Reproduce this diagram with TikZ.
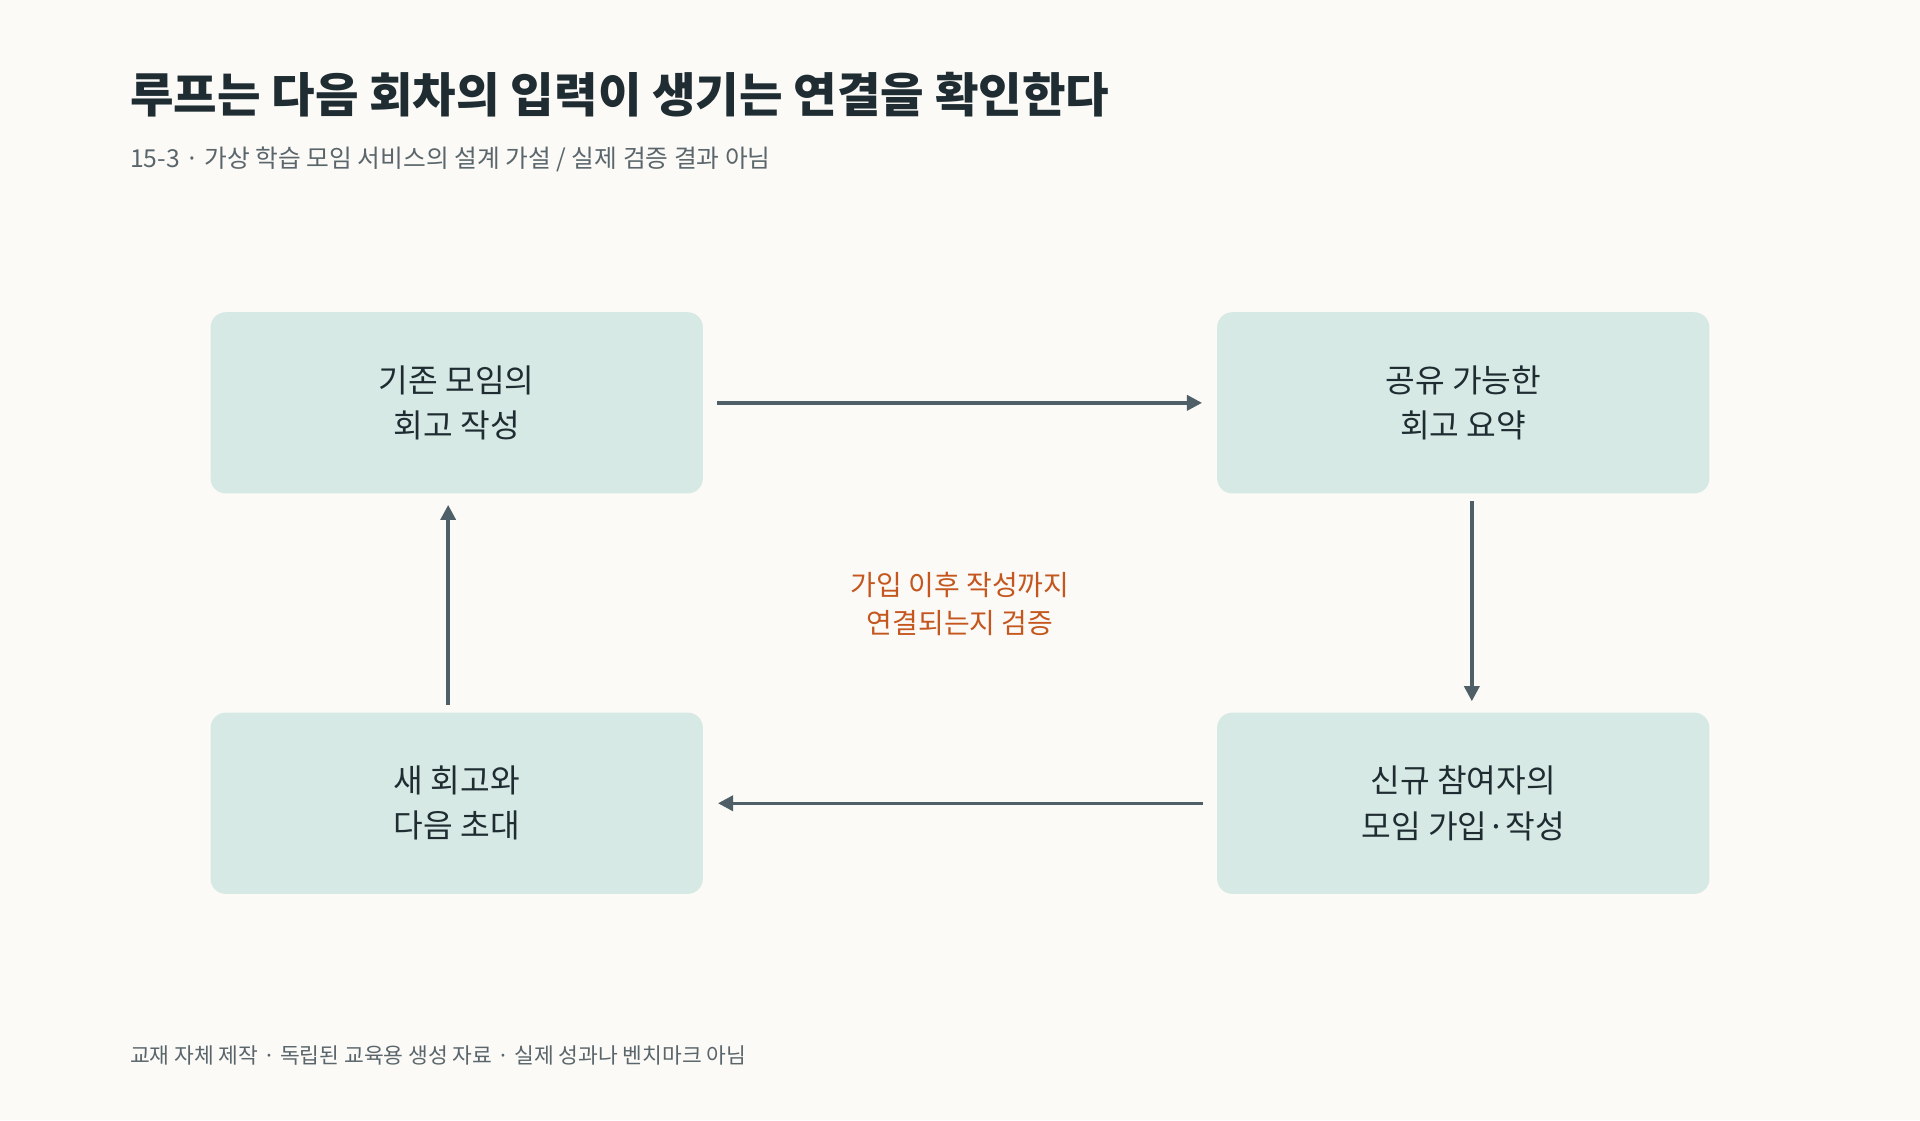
\documentclass[tikz,border=0pt]{standalone}
\usepackage{fontspec}
\newfontfamily\kr{Noto Sans CJK KR}
\usetikzlibrary{arrows.meta}
\definecolor{bg}{HTML}{FBFAF7}
\definecolor{boxc}{HTML}{D7E9E4}
\definecolor{ink}{HTML}{1F2D33}
\definecolor{sub}{HTML}{5A666B}
\definecolor{arr}{HTML}{4E5F67}
\definecolor{org}{HTML}{C4561E}
\begin{document}
\begin{tikzpicture}[x=0.02cm,y=-0.02cm,
  box/.style={fill=boxc,rounded corners=7pt,minimum width=402*0.02cm,minimum height=148*0.02cm,align=center,font=\kr\fontsize{15}{21}\selectfont,text=ink,inner sep=0},
  con/.style={draw=arr,line width=1.6pt,-{Triangle[length=7pt,width=7pt]},shorten <=0.22cm,shorten >=0.24cm}]
\path[fill=bg] (0,0) rectangle (1568,915);
\node[anchor=west,font=\kr\bfseries\fontsize{22}{26}\selectfont,text=ink] (t) at (100,77) {루프는 다음 회차의 입력이 생기는 연결을 확인한다};
\node[anchor=west,font=\kr\fontsize{11.5}{14}\selectfont,text=sub] (s) at (100,130) {15-3 · 가상 학습 모임 서비스의 설계 가설 / 실제 검증 결과 아님};
\node[box] (a) at (373,329) {기존 모임의\\회고 작성};
\node[box] (b) at (1195,329) {공유 가능한\\회고 요약};
\node[box] (c) at (1195,656) {신규 참여자의\\모임 가입·작성};
\node[box] (d) at (373,656) {새 회고와\\다음 초대};
\draw[con] (a.east) -- (b.west);
\draw[con,shorten <=0.12cm,shorten >=0.18cm] ([xshift=0.14cm]b.south) -- ([xshift=0.14cm]c.north);
\draw[con] (c.west) -- (d.east);
\draw[con,shorten <=0.12cm,shorten >=0.18cm] ([xshift=-0.14cm]d.north) -- ([xshift=-0.14cm]a.south);
\node[align=center,font=\kr\fontsize{13}{17.5}\selectfont,text=org] (m) at (784,493) {가입 이후 작성까지\\연결되는지 검증};
\node[anchor=west,font=\kr\fontsize{10}{12}\selectfont,text=sub] (f) at (100,862) {교재 자체 제작 · 독립된 교육용 생성 자료 · 실제 성과나 벤치마크 아님};
\end{tikzpicture}
\end{document}
